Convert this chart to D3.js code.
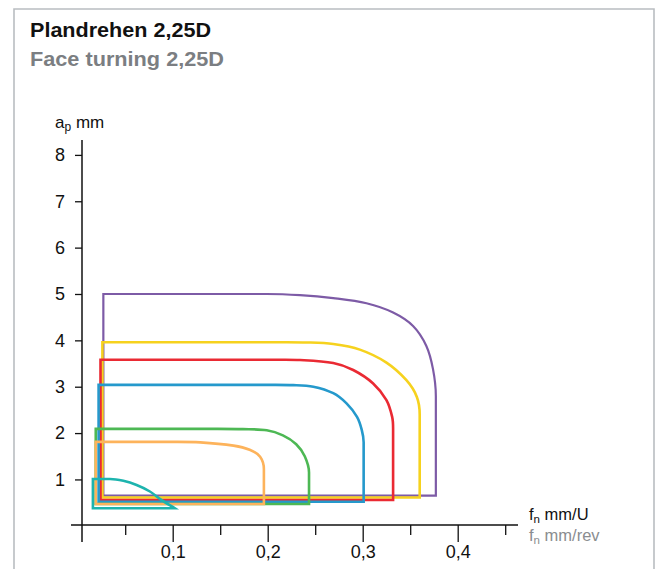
<!DOCTYPE html>
<html><head><meta charset="utf-8">
<script src="https://cdn.jsdelivr.net/npm/d3@7/dist/d3.min.js"></script>
<style>
body{margin:0;background:#fff}
svg{display:block;font-family:"Liberation Sans",Arial,Helvetica,sans-serif}
</style>
</head><body>
<script>
// ---- data ----
const titleDe = "Plandrehen 2,25D";
const titleEn = "Face turning 2,25D";
const yTicks = [1,2,3,4,5,6,7,8];
const xMajorTicks = [0.1,0.2,0.3,0.4];
const xMinorTicks = [0.05,0.15,0.25,0.35,0.45];

const seriesNames  = ["violet","yellow","red","blue","green","orange","teal"];
const seriesColors = ["#7d5ba6","#f6d21e","#ea2a33","#2599cc","#4db854","#fdb35b","#1db4ae"];
const fLeft    = [0.027,0.026,0.024,0.022,0.019,0.019,0.016];
const apTop    = [5.0,3.96,3.58,3.04,2.09,1.81,1.01];
const apBottom = [0.65,0.61,0.556,0.52,0.47,0.47,0.38];
// arc from end of flat top edge down to start of straight right edge [f, ap]
const arcViolet = [[0.199,5.0],[0.234,4.975],[0.269,4.91],[0.304,4.80],[0.332,4.60],[0.353,4.31],[0.367,3.88],[0.374,3.38],[0.377,2.80]];
const arcYellow = [[0.213,3.96],[0.241,3.955],[0.269,3.92],[0.297,3.80],[0.325,3.52],[0.346,3.14],[0.357,2.78],[0.360,2.40]];
const arcRed    = [[0.206,3.58],[0.234,3.575],[0.269,3.51],[0.290,3.36],[0.311,3.07],[0.325,2.71],[0.331,2.35],[0.332,2.10]];
const arcBlue   = [[0.199,3.04],[0.227,3.035],[0.248,3.00],[0.269,2.86],[0.283,2.64],[0.294,2.35],[0.299,2.07],[0.301,1.80]];
const arcGreen  = [[0.146,2.09],[0.174,2.085],[0.199,2.06],[0.216,1.95],[0.230,1.76],[0.239,1.50],[0.2435,1.15]];
const arcOrange = [[0.100,1.81],[0.129,1.80],[0.164,1.73],[0.181,1.64],[0.192,1.49],[0.196,1.22]];
const arcTeal   = [[0.034,1.01],[0.048,0.97],[0.062,0.88],[0.076,0.74],[0.088,0.56],[0.102,0.38]];
const arcs = [arcViolet,arcYellow,arcRed,arcBlue,arcGreen,arcOrange,arcTeal];
const drawOrder = [0,1,2,3,4,5,6];

// ---- chart ----
const W = 658, H = 569;
const svg = d3.select("body").append("svg").attr("width",W).attr("height",H);

// frame
svg.append("path").attr("d","M14,575V9H654V575")
  .attr("fill","none").attr("stroke","#b9bdc1").attr("stroke-width",1.6);

svg.append("text").attr("x",30).attr("y",37).attr("font-size",20).attr("font-weight","bold")
  .attr("fill","#111").attr("textLength",181).attr("lengthAdjust","spacingAndGlyphs").text(titleDe);
svg.append("text").attr("x",30).attr("y",66).attr("font-size",20).attr("font-weight","bold")
  .attr("fill","#7b7e82").attr("textLength",194).attr("lengthAdjust","spacingAndGlyphs").text(titleEn);

const x = d3.scaleLinear().domain([0,0.45]).range([77.7,505.2]);
const y = d3.scaleLinear().domain([0,8]).range([525.8,154.9]);
const axisX = 82, axisY = 525;

// y axis
const gy = svg.append("g").attr("transform",`translate(${axisX},0)`)
  .call(d3.axisLeft(y).tickValues(yTicks).tickSize(7).tickPadding(10).tickFormat(d3.format("d")));
gy.select(".domain").remove();
gy.selectAll("text").attr("font-size",18).attr("fill","#111").attr("font-family",null);
gy.selectAll("line").attr("stroke","#111").attr("stroke-width",1.3);
svg.append("line").attr("x1",axisX).attr("x2",axisX).attr("y1",140).attr("y2",542)
  .attr("stroke","#111").attr("stroke-width",1.5);

// x axis
const fmt = d => d3.format(".1f")(d).replace(".",",");
const gx = svg.append("g").attr("transform",`translate(0,${axisY})`)
  .call(d3.axisBottom(x).tickValues(xMajorTicks).tickSize(17).tickPadding(3).tickFormat(fmt));
gx.select(".domain").remove();
gx.selectAll("text").attr("font-size",18).attr("fill","#111").attr("font-family",null);
gx.selectAll("line").attr("stroke","#111").attr("stroke-width",1.3);
const gxm = svg.append("g").attr("transform",`translate(0,${axisY})`)
  .call(d3.axisBottom(x).tickValues(xMinorTicks).tickSize(10).tickFormat(""));
gxm.select(".domain").remove();
gxm.selectAll("line").attr("stroke","#111").attr("stroke-width",1.3);
svg.append("line").attr("x1",71).attr("x2",518).attr("y1",axisY).attr("y2",axisY)
  .attr("stroke","#111").attr("stroke-width",1.5);

// axis titles
const ya = svg.append("text").attr("x",55).attr("y",128).attr("font-size",17).attr("fill","#111");
ya.append("tspan").text("a");
ya.append("tspan").attr("font-size",12).attr("dy",3).text("p");
ya.append("tspan").attr("dy",-3).text(" mm");

const xa1 = svg.append("text").attr("x",529).attr("y",520).attr("font-size",16.5).attr("fill","#111");
xa1.append("tspan").text("f");
xa1.append("tspan").attr("font-size",11.5).attr("dy",3).text("n");
xa1.append("tspan").attr("dy",-3).text(" mm/U");
const xa2 = svg.append("text").attr("x",529).attr("y",541).attr("font-size",16.5).attr("fill","#8a8d90");
xa2.append("tspan").text("f");
xa2.append("tspan").attr("font-size",11.5).attr("dy",3).text("n");
xa2.append("tspan").attr("dy",-3).text(" mm/rev");

// series outlines: straight left/bottom edges, smooth Hermite arc (horizontal start, vertical end)
function norm(v){ const l = Math.hypot(v[0],v[1]) || 1; return [v[0]/l, v[1]/l]; }
function outline(i){
  const a = arcs[i];
  const P = a.map(d => [x(d[0]), y(d[1])]);
  const n = P.length;
  const last = a[n-1];
  const sharpEnd = !(apBottom[i] < last[1]);
  const T = P.map((p,k) => {
    if (k === 0) return [1,0];
    if (k === n-1) return sharpEnd ? norm([P[k][0]-P[k-1][0], P[k][1]-P[k-1][1]]) : [0,1];
    return norm([P[k+1][0]-P[k-1][0], P[k+1][1]-P[k-1][1]]);
  });
  const p = d3.path();
  p.moveTo(x(fLeft[i]), y(apBottom[i]));
  p.lineTo(x(fLeft[i]), y(apTop[i]));
  p.lineTo(P[0][0], P[0][1]);
  for (let k = 0; k < n-1; k++){
    const L = Math.hypot(P[k+1][0]-P[k][0], P[k+1][1]-P[k][1]) / 3;
    p.bezierCurveTo(P[k][0]+T[k][0]*L, P[k][1]+T[k][1]*L,
                    P[k+1][0]-T[k+1][0]*L, P[k+1][1]-T[k+1][1]*L,
                    P[k+1][0], P[k+1][1]);
  }
  p.lineTo(x(last[0]), y(apBottom[i]));
  p.closePath();
  return p.toString();
}
svg.append("g").selectAll("path").data(drawOrder).join("path")
  .attr("d",i=>outline(i))
  .attr("fill","none")
  .attr("stroke",i=>seriesColors[i])
  .attr("stroke-width",i=> i===0 ? 2.2 : 2.6)
  .attr("stroke-linejoin","miter");
</script>
</body></html>
